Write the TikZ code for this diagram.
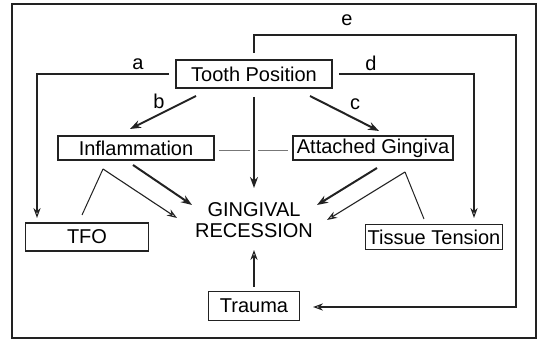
\documentclass[tikz,border=0pt]{standalone}
\usepackage{fontspec}
\setmainfont{Liberation Sans}
\usepackage{tikz}
\usetikzlibrary{arrows.meta,positioning}
\definecolor{grline}{HTML}{222222}
\definecolor{grlink}{HTML}{777777}

\begin{document}
\begin{tikzpicture}[
  x=0.5pt, y=-0.5pt,
  box/.style={draw=grline, line width=0.8pt, fill=white, minimum height=13pt,
              inner sep=1pt, align=center, font=\fontsize{10}{12}\selectfont},
  lbl/.style={font=\fontsize{10}{12}\selectfont, inner sep=1pt},
  arr/.style={-{Stealth[open,length=5pt,width=3.6pt]}, line width=0.55pt, color=grline},
  thk/.style={-{Stealth[open,length=5.5pt,width=4pt]}, line width=1pt, color=grline},
  thn/.style={line width=0.5pt, color=grline},
  link/.style={line width=0.5pt, color=grlink}
]
\useasboundingbox (0,0) rectangle (539,340);

% ── Frame ─────────────────────────────────────────────────────
\draw[grline, line width=0.6pt] (12,4) rectangle (536,338);

% ── Boxes ─────────────────────────────────────────────────────
\node[box, minimum width=78pt, minimum height=14pt] (tooth) at (254,74) {Tooth Position};
\node[box, minimum width=78pt, minimum height=12pt] (infl) at (136,148) {Inflammation};
\node[box, minimum width=80pt, minimum height=12pt] (attached) at (373,148) {Attached Gingiva};
\node[box, minimum width=61.5pt, minimum height=14pt] (tfo) at (87,237) {TFO};
\node[box, minimum width=68pt, minimum height=12.5pt] (tissue) at (434,237) {Tissue Tension};
\node[box, minimum width=45.5pt, minimum height=14.5pt] (trauma) at (254,306) {Trauma};
\node[lbl, align=center, font=\fontsize{10}{10.5}\selectfont] (recession) at (254,220) {GINGIVAL\\RECESSION};

% ── Free ends ─────────────────────────────────────────────────
\coordinate (aEnd) at (37,218);
\coordinate (dEnd) at (474,218);
\coordinate (eStart) at (254,53);
\coordinate (eTop) at (516,35);
\coordinate (eEnd) at (313,307);
\coordinate (bStart) at (196,96);
\coordinate (bEnd) at (130,129);
\coordinate (cStart) at (310,96);
\coordinate (cEnd) at (379,131);
\coordinate (midStart) at (254,97);
\coordinate (midEnd) at (254,188);
\coordinate (linkL) at (250,151);
\coordinate (linkR) at (258,151);
\coordinate (inflOut) at (133,165);
\coordinate (inflIn) at (192,205);
\coordinate (inflTop) at (103,169);
\coordinate (tfoTop) at (82,215);
\coordinate (inflThin) at (177,218);
\coordinate (attOut) at (377,168);
\coordinate (attIn) at (317,205);
\coordinate (tisApex) at (405,172);
\coordinate (tisTop) at (424,219);
\coordinate (tisThin) at (327,220);
\coordinate (trStart) at (254,287);
\coordinate (trEnd) at (254,250);

% ── Arrows from Tooth Position ────────────────────────────────
\draw[arr, shorten <=3pt] (tooth.west) -| (aEnd);
\draw[arr, shorten <=3pt] (tooth.east) -| (dEnd);
\draw[arr] (eStart) |- (eTop) |- (eEnd);
\draw[thk] (bStart) -- (bEnd);
\draw[thk] (cStart) -- (cEnd);
\draw[thk] (midStart) -- (midEnd);

% ── Letters ───────────────────────────────────────────────────
\node[lbl] (la) at (138,64) {a};
\node[lbl] (lb) at (159,101) {b};
\node[lbl] (lc) at (355,104) {c};
\node[lbl] (ld) at (371,63) {d};
\node[lbl] (le) at (347,20) {e};

% ── Link between Inflammation and Attached Gingiva ────────────
\draw[link] ([xshift=2pt]infl.east |- linkL) -- (linkL);
\draw[link] (linkR) -- ([xshift=-2pt]attached.west |- linkR);

% ── Into Gingival Recession ───────────────────────────────────
\draw[thk] (inflOut) -- (inflIn);
\draw[thn] (tfoTop) -- (inflTop);
\draw[arr] (inflTop) -- (inflThin);
\draw[thk] (attOut) -- (attIn);
\draw[thn] (tisTop) -- (tisApex);
\draw[arr] (tisApex) -- (tisThin);
\draw[arr] (trStart) -- (trEnd);
\end{tikzpicture}
\end{document}
